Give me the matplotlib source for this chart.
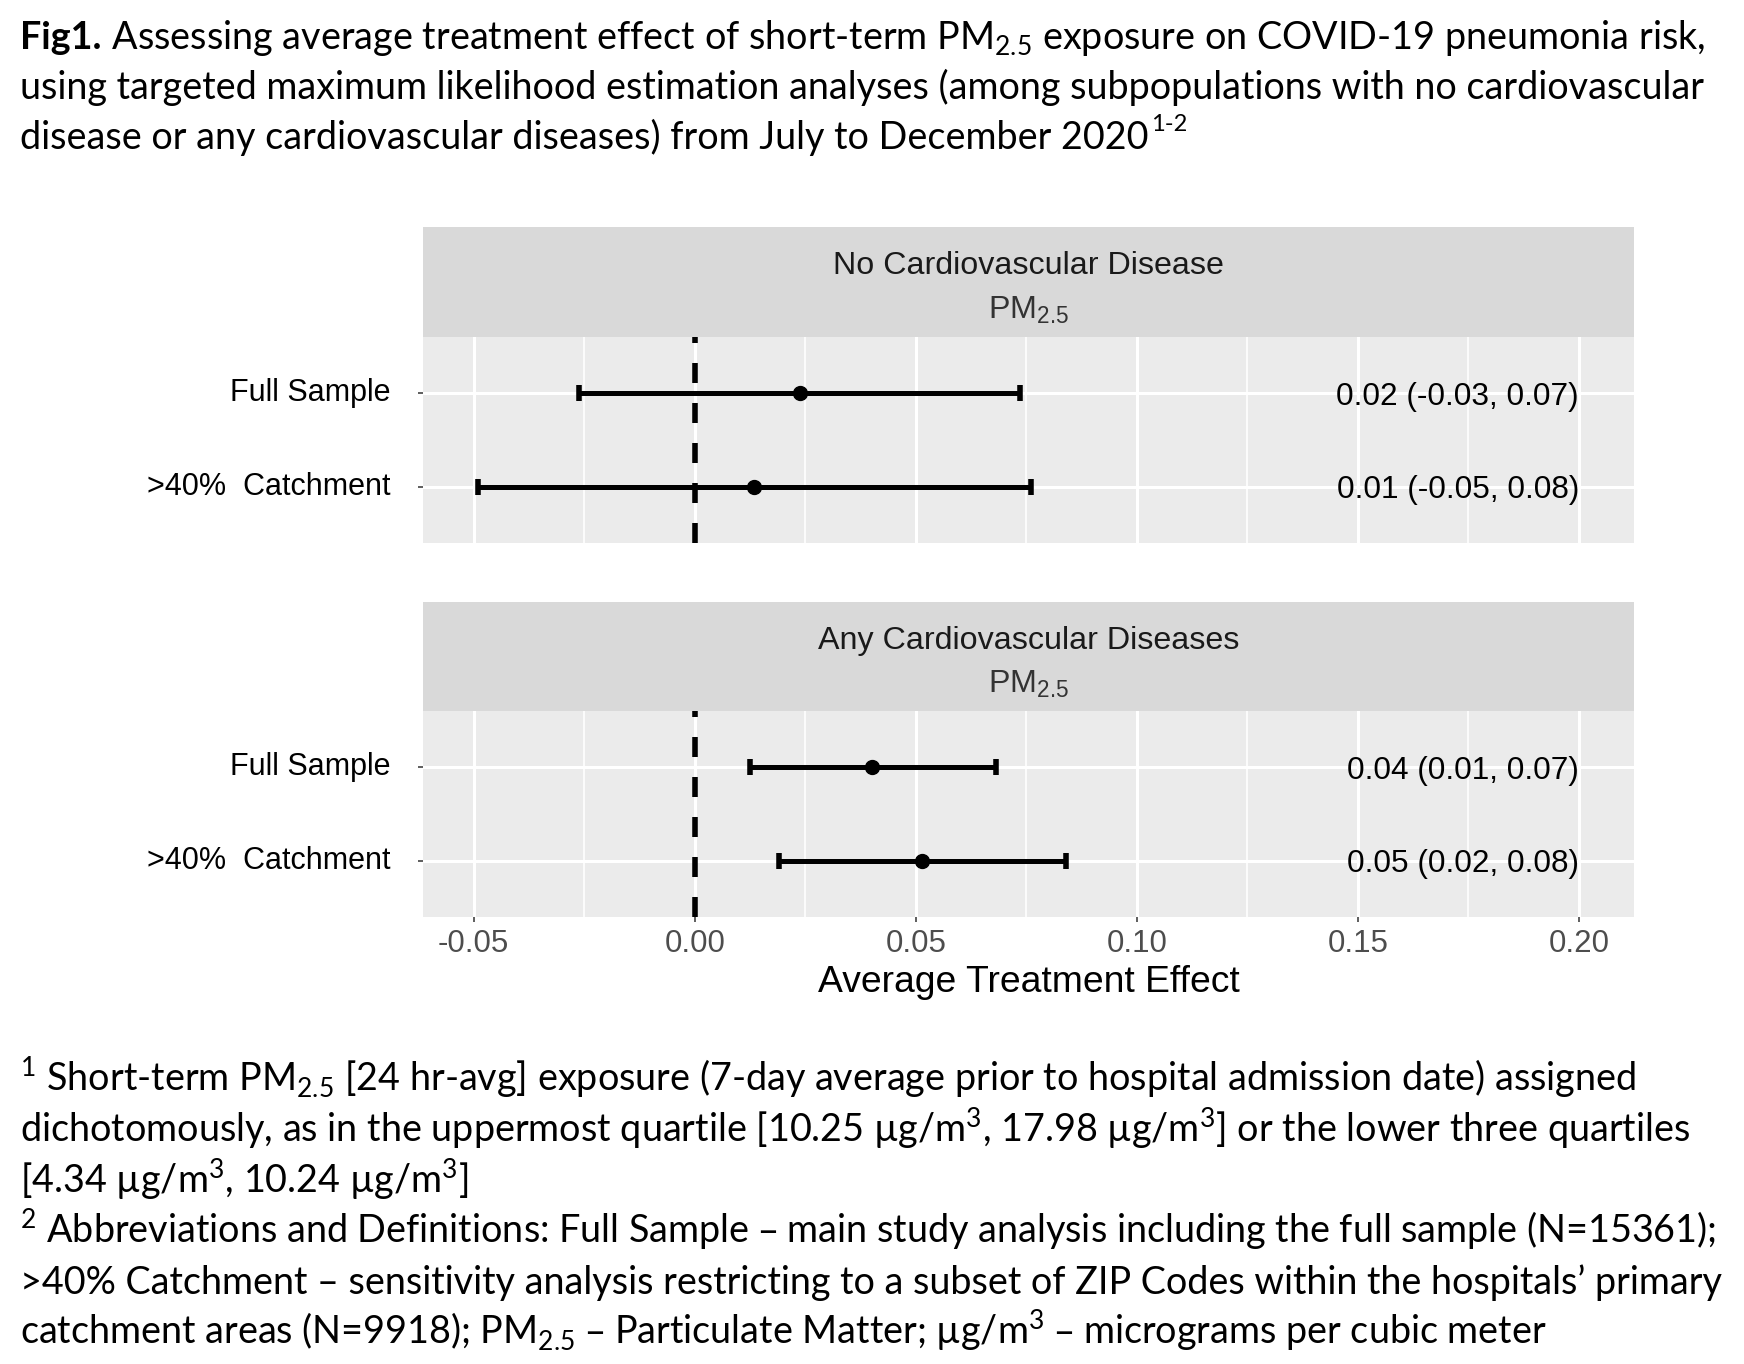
"""Forest plot: TMLE average treatment effect of short-term PM2.5 on COVID-19 pneumonia"""

import matplotlib
matplotlib.use("Agg")
import matplotlib.pyplot as plt
import numpy as np

W, H = 1744, 1364

panels = ["No Cardiovascular Disease", "Any Cardiovascular Diseases"]
samples = ["Full Sample", ">40%  Catchment"]
ate = [[0.0238, 0.0135], [0.0402, 0.0515]]
ci_low = [[-0.0262, -0.0490], [0.0125, 0.0191]]
ci_high = [[0.0735, 0.0760], [0.0681, 0.0840]]
ci_text = [["0.02 (-0.03, 0.07)", "0.01 (-0.05, 0.08)"],
           ["0.04 (0.01, 0.07)", "0.05 (0.02, 0.08)"]]
label_x = 0.20
xticks = [-0.05, 0.00, 0.05, 0.10, 0.15, 0.20]
xminor = [-0.025, 0.025, 0.075, 0.125, 0.175]

title_lines = [
    " Assessing average treatment effect of short-term PM$_{\\mathdefault{2.5}}$ exposure on COVID-19 pneumonia risk,",
    "using targeted maximum likelihood estimation analyses (among subpopulations with no cardiovascular",
    "disease or any cardiovascular diseases) from July to December 2020",
]
notes = [
    "$^{\\mathdefault{1}}$ Short-term PM$_{\\mathdefault{2.5}}$ [24 hr-avg] exposure (7-day average prior to hospital admission date) assigned",
    "dichotomously, as in the uppermost quartile [10.25 \u00b5g/m$^{\\mathdefault{3}}$, 17.98 \u00b5g/m$^{\\mathdefault{3}}$] or the lower three quartiles",
    "[4.34 \u00b5g/m$^{\\mathdefault{3}}$, 10.24 \u00b5g/m$^{\\mathdefault{3}}$]",
    "$^{\\mathdefault{2}}$ Abbreviations and Definitions: Full Sample \u2013 main study analysis including the full sample (N=15361);",
    ">40% Catchment \u2013 sensitivity analysis restricting to a subset of ZIP Codes within the hospitals\u2019 primary",
    "catchment areas (N=9918); PM$_{\\mathdefault{2.5}}$ \u2013 Particulate Matter; \u00b5g/m$^{\\mathdefault{3}}$ \u2013 micrograms per cubic meter",
]

plt.rcParams['font.family'] = ['Liberation Sans', 'DejaVu Sans']


def fy(y):
    """top-down pixel row -> figure fraction"""
    return 1 - y / H


fig = plt.figure(figsize=(W / 100, H / 100), dpi=100)

# x range like ggplot: data range (incl. text position) expanded by 5%
lo = min(min(r) for r in ci_low)
span = label_x - lo
xlim = (lo - 0.05 * span, label_x + 0.05 * span)

# (strip top, strip bottom / panel top, panel bottom) in pixels
boxes = [(227, 337, 543), (602, 711, 917)]
ypos = [2, 1]
left, width = 423, 1211

for i, (s_top, p_top, p_bot) in enumerate(boxes):
    ax = fig.add_axes([left / W, fy(p_bot), width / W, (p_bot - p_top) / H])
    ax.set_facecolor('#EBEBEB')
    for sp in ax.spines.values():
        sp.set_visible(False)
    ax.set_xlim(xlim)
    ax.set_ylim(0.4, 2.6)
    ax.set_xticks(xticks)
    ax.set_xticks(xminor, minor=True)
    ax.set_xticklabels(["%.2f" % t for t in xticks])
    ax.set_yticks(ypos)
    ax.set_yticklabels(samples)
    for lbl in ax.get_yticklabels():
        lbl.set_va('center')
    ax.set_axisbelow(True)
    ax.grid(which='major', color='white', lw=2.2)
    ax.grid(which='minor', axis='x', color='white', lw=1.2)
    ax.tick_params(axis='both', which='major', length=3.6, width=1.1, color='#333333')
    ax.tick_params(axis='x', which='minor', length=0)
    ax.tick_params(axis='y', labelsize=22, labelcolor='black', pad=20)
    ax.tick_params(axis='x', labelsize=22.5, labelcolor='#4D4D4D', pad=5)
    if i == 0:
        ax.tick_params(axis='x', which='major', length=0, labelbottom=False)

    ax.axvline(0, color='black', lw=4, ls=(0, (3.6, 3.6)), zorder=2)
    x = np.array(ate[i])
    xerr = [x - np.array(ci_low[i]), np.array(ci_high[i]) - x]
    ax.errorbar(x, ypos, xerr=xerr, fmt='o', color='black', ms=10,
                lw=3.6, capsize=6.1, capthick=4, zorder=3)
    for y, txt in zip(ypos, ci_text[i]):
        ax.text(label_x, y, txt, ha='right', va='center_baseline', fontsize=22.7, color='black')

    if i == 1:
        ax.set_xlabel("Average Treatment Effect", fontsize=26.8, color='black', labelpad=4)

    strip = fig.add_axes([left / W, fy(p_top), width / W, (p_top - s_top) / H])
    strip.set_facecolor('#D9D9D9')
    strip.set_xticks([])
    strip.set_yticks([])
    for sp in strip.spines.values():
        sp.set_visible(False)
    strip.text(0.5, 0.57, panels[i], ha='center', va='baseline', fontsize=23.2,
               color='#1A1A1A', transform=strip.transAxes)
    strip.text(0.5, 0.17, "PM$_{\\mathdefault{2.5}}$", ha='center', va='baseline',
               fontsize=23.2, color='#333333', transform=strip.transAxes)

# caption text (Calibri-like) on a transparent overlay
over = fig.add_axes([0, 0, 1, 1])
over.axis('off')
cap = dict(family=['Lato', 'DejaVu Sans'], fontsize=27.2, color='black', va='baseline')

fig_lbl = over.text(20 / W, fy(49), "Fig1.", fontweight='bold', transform=fig.transFigure, **cap)
over.annotate(title_lines[0], xy=(1, fy(49)), xycoords=(fig_lbl, 'figure fraction'), **cap)
over.text(20 / W, fy(99), title_lines[1], transform=fig.transFigure, **cap)
last = over.text(20 / W, fy(149), title_lines[2], transform=fig.transFigure, **cap)
over.annotate("1-2", xy=(1.002, fy(131)), xycoords=(last, 'figure fraction'),
              family=['Lato', 'DejaVu Sans'], fontsize=17, va='baseline')

for k, line in enumerate(notes):
    over.text(20 / W, fy(1092 + 50.6 * k), line, transform=fig.transFigure, **cap)

fig.savefig("out.png", dpi=100)
